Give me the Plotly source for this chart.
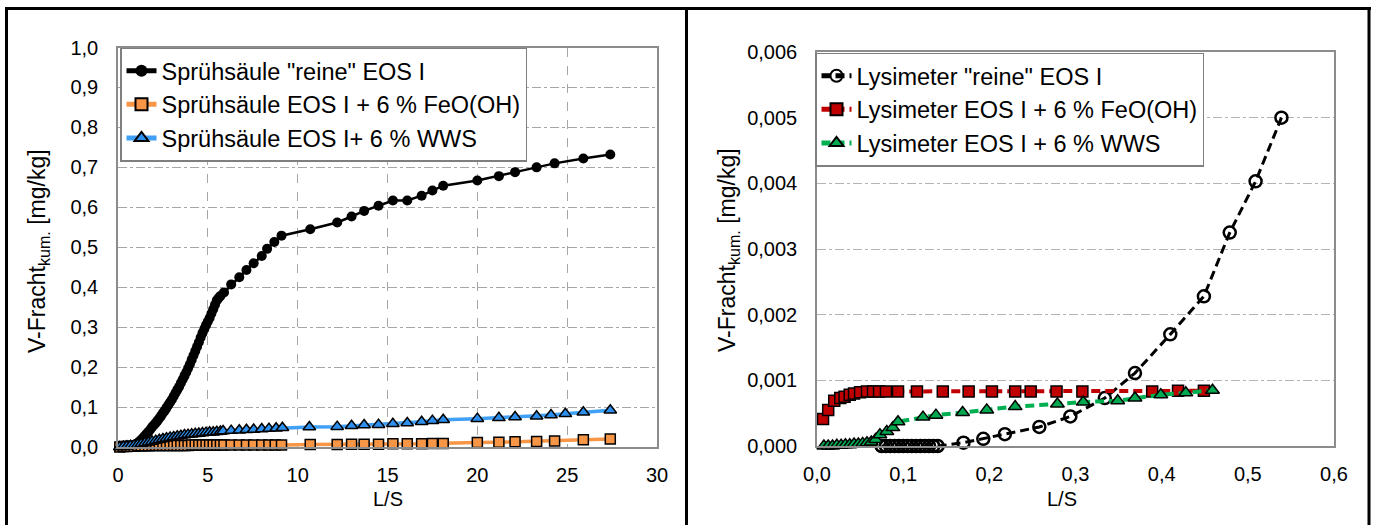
import plotly.graph_objects as go

W, H = 1374, 525

# ---------------- Left chart: Sprühsäule ----------------
left_black_x = [0.1, 0.2, 0.3, 0.4, 0.5, 0.6, 0.7, 0.8, 0.9, 1.0, 1.1, 1.2, 1.3, 1.4, 1.5,
                1.6, 1.7, 1.8, 1.9, 2.0, 2.1, 2.2, 2.3, 2.4, 2.5, 2.6, 2.7, 2.8, 2.9, 3.0,
                3.1, 3.2, 3.3, 3.4, 3.5, 3.6, 3.7, 3.8, 3.9, 4.0, 4.1, 4.2, 4.3, 4.4, 4.5,
                4.6, 4.7, 4.8, 4.9, 5.0, 5.1, 5.2, 5.3, 5.4, 5.5, 5.6, 5.7,
                5.9, 6.3, 6.75, 7.15, 7.55, 8.0, 8.3, 8.7, 9.1,
                10.7, 12.2, 13.0, 13.7, 14.5, 15.3, 16.1, 16.9, 17.5, 18.1,
                20.0, 21.2, 22.1, 23.3, 24.3, 25.9, 27.4]
left_black_y = [0.000, 0.000, 0.000, 0.001, 0.001, 0.002, 0.002, 0.003, 0.005, 0.007, 0.010,
                0.014, 0.018, 0.023, 0.028, 0.033, 0.038, 0.044, 0.050, 0.055, 0.060, 0.066,
                0.072, 0.078, 0.085, 0.091, 0.098, 0.105, 0.112, 0.119, 0.127, 0.135, 0.143,
                0.151, 0.160, 0.169, 0.178, 0.187, 0.197, 0.207, 0.218, 0.229, 0.240, 0.251,
                0.262, 0.274, 0.285, 0.295, 0.305, 0.314, 0.323, 0.334, 0.345, 0.356, 0.367,
                0.373, 0.378,
                0.387, 0.407, 0.425, 0.443, 0.460, 0.478, 0.496, 0.513, 0.529,
                0.545, 0.562, 0.577, 0.591, 0.604, 0.617, 0.617, 0.629, 0.642, 0.654,
                0.667, 0.678, 0.688, 0.700, 0.710, 0.722, 0.732]

left_orange_x = [0.1, 0.3, 0.5, 0.7, 0.9, 1.1, 1.3, 1.5, 1.7, 1.9, 2.1, 2.3, 2.5, 2.7, 2.9,
                 3.1, 3.3, 3.5, 3.7, 3.9, 4.1, 4.3, 4.5, 4.7, 4.9, 5.1, 5.3, 5.5, 5.7,
                 5.9, 6.3, 6.75, 7.15, 7.55, 8.0, 8.4, 8.75, 9.1,
                 10.7, 12.2, 13.0, 13.7, 14.5, 15.3, 16.1, 16.9, 17.5, 18.1,
                 20.0, 21.2, 22.1, 23.3, 24.3, 25.9, 27.4]
left_orange_y = [0.000, 0.001, 0.001, 0.002, 0.002, 0.003, 0.003, 0.003, 0.003, 0.004, 0.004,
                 0.004, 0.004, 0.004, 0.004, 0.004, 0.004, 0.004, 0.004, 0.004, 0.005, 0.005,
                 0.005, 0.005, 0.005, 0.005, 0.005, 0.005, 0.005,
                 0.005, 0.005, 0.005, 0.005, 0.005, 0.005, 0.005, 0.005, 0.005,
                 0.006, 0.006, 0.007, 0.007, 0.007, 0.008, 0.008, 0.008, 0.009, 0.009,
                 0.011, 0.012, 0.013, 0.014, 0.015, 0.018, 0.020]

left_blue_x = [0.1, 0.3, 0.5, 0.7, 0.9, 1.1, 1.3, 1.5, 1.7, 1.9, 2.1, 2.3, 2.5, 2.7, 2.9,
               3.1, 3.3, 3.5, 3.7, 3.9, 4.1, 4.3, 4.5, 4.7, 4.9, 5.1, 5.3, 5.5, 5.7,
               5.85, 6.3, 6.75, 7.15, 7.55, 8.0, 8.4, 8.8, 9.15,
               10.65, 12.2, 13.0, 13.7, 14.5, 15.3, 16.1, 16.9, 17.5, 18.1,
               20.0, 21.2, 22.1, 23.3, 24.1, 24.9, 25.9, 27.4]
left_blue_y = [0.000, 0.001, 0.002, 0.003, 0.004, 0.006, 0.008, 0.010, 0.012, 0.014, 0.016,
               0.018, 0.020, 0.022, 0.024, 0.025, 0.027, 0.028, 0.030, 0.031, 0.032, 0.033,
               0.034, 0.035, 0.036, 0.037, 0.037, 0.038, 0.039,
               0.040, 0.041, 0.042, 0.043, 0.044, 0.045, 0.046, 0.047, 0.048,
               0.050, 0.051, 0.053, 0.055, 0.056, 0.058, 0.060, 0.063, 0.066, 0.068,
               0.071, 0.073, 0.075, 0.077, 0.080, 0.083, 0.087, 0.092]

left_names = ['Sprühsäule "reine" EOS I',
              'Sprühsäule EOS I + 6 % FeO(OH)',
              'Sprühsäule EOS I+ 6 % WWS']

# ---------------- Right chart: Lysimeter ----------------
right_black_x = [0.075, 0.08, 0.085, 0.09, 0.095, 0.10, 0.105, 0.11, 0.115, 0.12, 0.125, 0.13,
                 0.135, 0.14, 0.17, 0.193, 0.218, 0.258, 0.294, 0.334, 0.369, 0.410, 0.449,
                 0.479, 0.509, 0.539]
right_black_y = [0.0, 0.0, 0.0, 0.0, 0.0, 0.0, 0.0, 0.0, 0.0, 0.0, 0.0, 0.0,
                 0.0, 0.0, 0.00005, 0.00011, 0.00018, 0.00029, 0.00045, 0.00073, 0.00111,
                 0.00170, 0.00228, 0.00325, 0.00403, 0.00500]

right_red_x = [0.007, 0.013, 0.020, 0.027, 0.032, 0.038, 0.043, 0.050, 0.058, 0.065, 0.072,
               0.080, 0.094, 0.116, 0.146, 0.176, 0.203, 0.230, 0.248, 0.278, 0.308, 0.389,
               0.419, 0.449]
right_red_y = [0.00041, 0.00055, 0.00069, 0.00073, 0.00075, 0.00078, 0.00080, 0.00082,
               0.00083, 0.00083, 0.00083, 0.00083, 0.00083, 0.00083, 0.00083, 0.00083,
               0.00083, 0.00083, 0.00083, 0.00083, 0.00083, 0.00083, 0.00084, 0.00084]

right_green_x = [0.008, 0.013, 0.018, 0.023, 0.028, 0.033, 0.038, 0.043, 0.048, 0.053, 0.058,
                 0.063, 0.068, 0.073, 0.081, 0.088, 0.094, 0.123, 0.138, 0.169, 0.197, 0.230,
                 0.279, 0.309, 0.349, 0.369, 0.399, 0.428, 0.459]
right_green_y = [0.0, 0.0, 0.0, 0.00001, 0.00001, 0.00002, 0.00002, 0.00003, 0.00003,
                 0.00004, 0.00005, 0.00006, 0.00010, 0.00017, 0.00022, 0.00028, 0.00037,
                 0.00044, 0.00047, 0.00051, 0.00055, 0.00060, 0.00064, 0.00067, 0.00069,
                 0.00073, 0.00078, 0.00081, 0.00085]

right_names = ['Lysimeter "reine" EOS I',
               'Lysimeter EOS I + 6 % FeO(OH)',
               'Lysimeter EOS I + 6 % WWS']

FONT = "Liberation Sans, Arial, sans-serif"

fig = go.Figure()

# left traces
fig.add_trace(go.Scatter(x=left_black_x, y=left_black_y, name=left_names[0], mode="lines+markers",
                         line=dict(color="black", width=2.5),
                         marker=dict(symbol="circle", size=10, color="black"),
                         xaxis="x", yaxis="y", legend="legend", cliponaxis=False))
fig.add_trace(go.Scatter(x=left_orange_x, y=left_orange_y, name=left_names[1], mode="lines+markers",
                         line=dict(color="#F79646", width=3.5),
                         marker=dict(symbol="square", size=10, color="#F79646",
                                     line=dict(color="black", width=1.5)),
                         xaxis="x", yaxis="y", legend="legend", cliponaxis=False))
fig.add_trace(go.Scatter(x=left_blue_x, y=left_blue_y, name=left_names[2], mode="lines+markers",
                         line=dict(color="#3FA0F5", width=3.5),
                         marker=dict(symbol="triangle-up", size=11, color="#2E90EE",
                                     line=dict(color="black", width=1.5)),
                         xaxis="x", yaxis="y", legend="legend", cliponaxis=False))

# right traces
fig.add_trace(go.Scatter(x=right_black_x, y=right_black_y, name=right_names[0], mode="lines+markers",
                         line=dict(color="black", width=3, dash="9px,5px"),
                         marker=dict(symbol="circle-open", size=12, color="black",
                                     line=dict(color="black", width=2.5)),
                         xaxis="x2", yaxis="y2", legend="legend2", cliponaxis=False))
fig.add_trace(go.Scatter(x=right_red_x, y=right_red_y, name=right_names[1], mode="lines+markers",
                         line=dict(color="#C00000", width=4, dash="9px,5px"),
                         marker=dict(symbol="square", size=11, color="#C00000",
                                     line=dict(color="black", width=1.5)),
                         xaxis="x2", yaxis="y2", legend="legend2", cliponaxis=False))
fig.add_trace(go.Scatter(x=right_green_x, y=right_green_y, name=right_names[2], mode="lines+markers",
                         line=dict(color="#00B050", width=4, dash="9px,5px"),
                         marker=dict(symbol="triangle-up", size=12, color="#00A84F",
                                     line=dict(color="black", width=1.5)),
                         xaxis="x2", yaxis="y2", legend="legend2", cliponaxis=False))

def px_x(p):
    return p / W

def px_y(p):
    return 1 - p / H

grid_col = "#A6A6A6"
axis_col = "#8C8C8C"
tickfont = dict(family=FONT, size=20, color="black")
common = dict(showline=True, linecolor=axis_col, linewidth=1.5, mirror=True,
              zeroline=False, ticks="", tickfont=tickfont, automargin=False)

fig.update_layout(
    width=W, height=H,
    margin=dict(l=0, r=0, t=0, b=0, pad=0, autoexpand=False),
    paper_bgcolor="white", plot_bgcolor="white",
    separators=", ",
    showlegend=True,
    font=dict(family=FONT, color="black"),
    xaxis=dict(domain=[px_x(118), px_x(657)], anchor="y", range=[0, 30], dtick=5,
               tickformat="d", showgrid=True, gridcolor=grid_col, griddash="dash", gridwidth=1,
               ticklabelstandoff=9, **common),
    yaxis=dict(domain=[px_y(447), px_y(47.5)], anchor="x", range=[0, 1.0], dtick=0.1,
               tickformat=".1f", showgrid=True, gridcolor=grid_col, griddash="dashdot", gridwidth=1,
               ticklabelstandoff=14, **common),
    xaxis2=dict(domain=[px_x(817), px_x(1334)], anchor="y2", range=[0, 0.6], dtick=0.1,
                tickformat=".1f", showgrid=False, ticklabelstandoff=9, **common),
    yaxis2=dict(domain=[px_y(446), px_y(52)], anchor="x2", range=[0, 0.006], dtick=0.001,
                tickformat=".3f", showgrid=True, gridcolor="#B4B4B4", griddash="dashdot", gridwidth=1,
                ticklabelstandoff=14, **common),
    legend=dict(x=px_x(120), y=px_y(47.5), xanchor="left", yanchor="top",
                bgcolor="white", bordercolor="#7F7F7F", borderwidth=1.5,
                font=dict(family=FONT, size=23.5, color="black"), tracegroupgap=0,
                itemsizing="constant"),
    legend2=dict(x=px_x(815), y=px_y(52.5), xanchor="left", yanchor="top",
                 bgcolor="white", bordercolor="#7F7F7F", borderwidth=1.5,
                 font=dict(family=FONT, size=23.5, color="black"), tracegroupgap=0,
                 itemsizing="constant"),
)

# axis titles as annotations
ann = [
    dict(text="L/S", x=px_x(388), y=px_y(499), size=20),
    dict(text="L/S", x=px_x(1062), y=px_y(499), size=20),
    dict(text="V-Fracht<sub>kum.</sub> [mg/kg]", x=px_x(38), y=px_y(251), textangle=-90, size=23),
    dict(text="V-Fracht<sub>kum.</sub> [mg/kg]", x=px_x(728), y=px_y(250), textangle=-90, size=23),
]
for a in ann:
    size = a.pop("size")
    fig.add_annotation(xref="paper", yref="paper", showarrow=False,
                       xanchor="center", yanchor="middle",
                       font=dict(family=FONT, size=size, color="black"), **a)

# table-like frame lines
frame = [
    (px_x(5), px_y(8.5), px_x(1371), px_y(8.5)),
    (px_x(6.5), px_y(7), px_x(6.5), px_y(525)),
    (px_x(686.5), px_y(7), px_x(686.5), px_y(525)),
    (px_x(1369), px_y(7), px_x(1369), px_y(525)),
]
for x0, y0, x1, y1 in frame:
    fig.add_shape(type="line", xref="paper", yref="paper", x0=x0, y0=y0, x1=x1, y1=y1,
                  line=dict(color="black", width=3))

fig.write_html("out.html")
